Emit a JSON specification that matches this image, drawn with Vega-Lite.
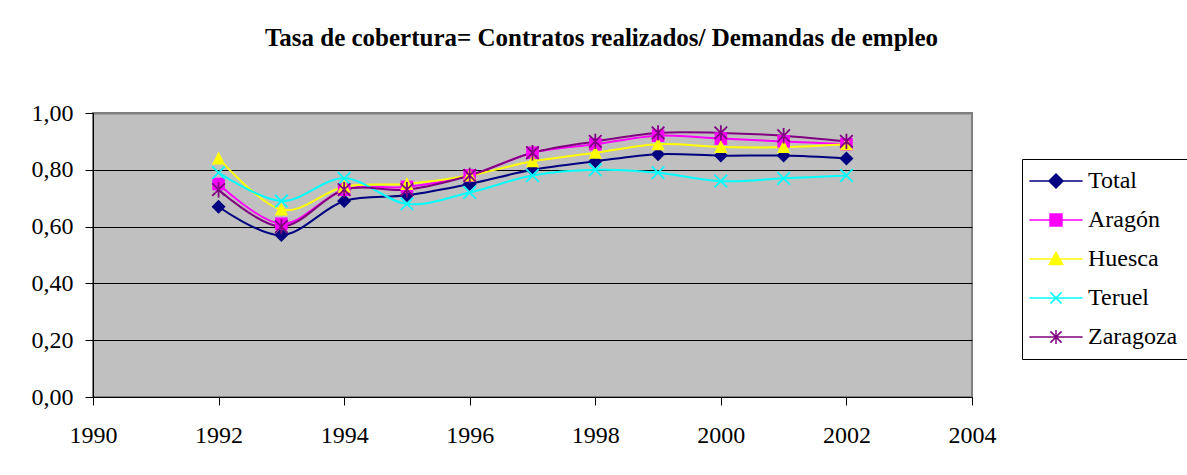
{
  "$schema": "https://vega.github.io/schema/vega-lite/v6.json",
  "width": 879,
  "height": 284,
  "autosize": {"type": "none"},
  "padding": {"left": 93, "top": 113, "right": 215, "bottom": 78},
  "background": "white",
  "title": {
    "text": "Tasa de cobertura= Contratos realizados/ Demandas de empleo",
    "font": "Liberation Serif",
    "fontSize": 25,
    "fontWeight": "bold",
    "color": "black",
    "anchor": "middle",
    "dx": 69,
    "baseline": "alphabetic",
    "offset": 30
  },
  "config": {
    "view": {"fill": "#C0C0C0", "stroke": "#808080", "strokeWidth": 2},
    "axis": {
      "labelFont": "Liberation Serif",
      "labelFontSize": 24,
      "labelColor": "black",
      "domainColor": "black",
      "tickColor": "black",
      "tickSize": 8,
      "title": null
    },
    "point": {"filled": true, "size": 196, "strokeWidth": 1.5, "opacity": 1}
  },
  "data": {
    "values": [
      {"year": 1992, "series": "Total", "value": 0.67},
      {"year": 1993, "series": "Total", "value": 0.57},
      {"year": 1994, "series": "Total", "value": 0.69},
      {"year": 1995, "series": "Total", "value": 0.71},
      {"year": 1996, "series": "Total", "value": 0.75},
      {"year": 1997, "series": "Total", "value": 0.80},
      {"year": 1998, "series": "Total", "value": 0.83},
      {"year": 1999, "series": "Total", "value": 0.855},
      {"year": 2000, "series": "Total", "value": 0.85},
      {"year": 2001, "series": "Total", "value": 0.85},
      {"year": 2002, "series": "Total", "value": 0.84},
      {"year": 1992, "series": "Aragón", "value": 0.75},
      {"year": 1993, "series": "Aragón", "value": 0.61},
      {"year": 1994, "series": "Aragón", "value": 0.73},
      {"year": 1995, "series": "Aragón", "value": 0.74},
      {"year": 1996, "series": "Aragón", "value": 0.78},
      {"year": 1997, "series": "Aragón", "value": 0.86},
      {"year": 1998, "series": "Aragón", "value": 0.89},
      {"year": 1999, "series": "Aragón", "value": 0.92},
      {"year": 2000, "series": "Aragón", "value": 0.91},
      {"year": 2001, "series": "Aragón", "value": 0.90},
      {"year": 2002, "series": "Aragón", "value": 0.89},
      {"year": 1992, "series": "Huesca", "value": 0.84},
      {"year": 1993, "series": "Huesca", "value": 0.66},
      {"year": 1994, "series": "Huesca", "value": 0.74},
      {"year": 1995, "series": "Huesca", "value": 0.75},
      {"year": 1996, "series": "Huesca", "value": 0.78},
      {"year": 1997, "series": "Huesca", "value": 0.83},
      {"year": 1998, "series": "Huesca", "value": 0.86},
      {"year": 1999, "series": "Huesca", "value": 0.89},
      {"year": 2000, "series": "Huesca", "value": 0.88},
      {"year": 2001, "series": "Huesca", "value": 0.88},
      {"year": 2002, "series": "Huesca", "value": 0.89},
      {"year": 1992, "series": "Teruel", "value": 0.79},
      {"year": 1993, "series": "Teruel", "value": 0.69},
      {"year": 1994, "series": "Teruel", "value": 0.77},
      {"year": 1995, "series": "Teruel", "value": 0.68},
      {"year": 1996, "series": "Teruel", "value": 0.72},
      {"year": 1997, "series": "Teruel", "value": 0.78},
      {"year": 1998, "series": "Teruel", "value": 0.80},
      {"year": 1999, "series": "Teruel", "value": 0.79},
      {"year": 2000, "series": "Teruel", "value": 0.76},
      {"year": 2001, "series": "Teruel", "value": 0.77},
      {"year": 2002, "series": "Teruel", "value": 0.78},
      {"year": 1992, "series": "Zaragoza", "value": 0.73},
      {"year": 1993, "series": "Zaragoza", "value": 0.60},
      {"year": 1994, "series": "Zaragoza", "value": 0.73},
      {"year": 1995, "series": "Zaragoza", "value": 0.73},
      {"year": 1996, "series": "Zaragoza", "value": 0.78},
      {"year": 1997, "series": "Zaragoza", "value": 0.86},
      {"year": 1998, "series": "Zaragoza", "value": 0.90},
      {"year": 1999, "series": "Zaragoza", "value": 0.93},
      {"year": 2000, "series": "Zaragoza", "value": 0.93},
      {"year": 2001, "series": "Zaragoza", "value": 0.92},
      {"year": 2002, "series": "Zaragoza", "value": 0.90}
    ]
  },
  "encoding": {
    "x": {
      "field": "year",
      "type": "quantitative",
      "scale": {"domain": [1990, 2004], "nice": false, "zero": false},
      "axis": {
        "values": [1990, 1992, 1994, 1996, 1998, 2000, 2002, 2004],
        "format": "d",
        "grid": false,
        "labelPadding": 18,
        "labelFlush": false
      }
    },
    "y": {
      "field": "value",
      "type": "quantitative",
      "scale": {"domain": [0, 1], "nice": false},
      "axis": {
        "values": [0, 0.2, 0.4, 0.6, 0.8, 1],
        "labelExpr": "replace(format(datum.value, '.2f'), '.', ',')",
        "grid": true,
        "gridColor": {"condition": {"test": "datum.value >= 1", "value": "#808080"}, "value": "black"},
        "gridWidth": {"condition": {"test": "datum.value >= 1", "value": 2}, "value": 1},
        "gridOpacity": 1,
        "labelPadding": 12,
        "labelFlush": false
      }
    },
    "color": {
      "field": "series",
      "type": "nominal",
      "scale": {
        "domain": ["Total", "Aragón", "Huesca", "Teruel", "Zaragoza"],
        "range": ["#000080", "#FF00FF", "#FFFF00", "#00FFFF", "#800080"]
      },
      "legend": {
        "title": null,
        "orient": "none",
        "legendX": 929,
        "legendY": 46,
        "padding": 10,
        "strokeColor": "black",
        "fillColor": "white",
        "labelFont": "Liberation Serif",
        "labelFontSize": 24,
        "labelColor": "black",
        "labelLimit": 300,
        "symbolSize": 196,
        "symbolOffset": 12,
        "labelOffset": 20,
        "rowPadding": 15,
        "symbolOpacity": 1,
        "symbolStrokeWidth": 1.5
      }
    }
  },
  "layer": [
    {
      "mark": {"type": "line", "interpolate": "cardinal", "strokeWidth": 2},
      "encoding": {}
    },
    {
      "mark": {"type": "point", "opacity": 0},
      "encoding": {
        "shape": {
          "field": "series",
          "type": "nominal",
          "scale": {
            "domain": ["Total", "Aragón", "Huesca", "Teruel", "Zaragoza"],
            "range": [
              "M-3.8,0L3.8,0M0,-1L1,0L0,1L-1,0Z",
              "M-3.8,0L3.8,0M-0.85,-0.85L0.85,-0.85L0.85,0.85L-0.85,0.85Z",
              "M-3.8,0L3.8,0M0,-0.95L0.95,0.8L-0.95,0.8Z",
              "M-3.8,0L3.8,0M-0.8,-0.8L0.8,0.8M-0.8,0.8L0.8,-0.8",
              "M-3.8,0L3.8,0M-0.8,-0.8L0.8,0.8M-0.8,0.8L0.8,-0.8M0,-1L0,1"
            ]
          },
          "legend": {
            "title": null,
            "orient": "none",
            "legendX": 929,
            "legendY": 46,
            "padding": 10,
            "strokeColor": "black",
            "fillColor": "white",
            "labelFont": "Liberation Serif",
            "labelFontSize": 24,
            "labelColor": "black",
            "labelLimit": 300,
            "symbolSize": 196,
            "symbolOffset": 12,
            "labelOffset": 20,
            "rowPadding": 15,
            "symbolOpacity": 1,
            "symbolStrokeWidth": 1.5
          }
        }
      }
    },
    {
      "transform": [{"filter": {"field": "series", "equal": "Total"}}],
      "mark": {"type": "point", "shape": "M0,-1L1,0L0,1L-1,0Z", "filled": true}
    },
    {
      "transform": [{"filter": {"field": "series", "equal": "Aragón"}}],
      "mark": {"type": "point", "shape": "M-0.9,-0.9L0.9,-0.9L0.9,0.9L-0.9,0.9Z", "filled": true}
    },
    {
      "transform": [{"filter": {"field": "series", "equal": "Huesca"}}],
      "mark": {"type": "point", "shape": "M0,-1L0.95,0.85L-0.95,0.85Z", "filled": true}
    },
    {
      "transform": [{"filter": {"field": "series", "equal": "Teruel"}}],
      "mark": {"type": "point", "shape": "M-0.9,-0.9L0.9,0.9M-0.9,0.9L0.9,-0.9", "filled": false, "strokeWidth": 1.8}
    },
    {
      "transform": [{"filter": {"field": "series", "equal": "Zaragoza"}}],
      "mark": {"type": "point", "shape": "M-0.9,-0.9L0.9,0.9M-0.9,0.9L0.9,-0.9M0,-1.1L0,1.1", "filled": false, "strokeWidth": 1.8}
    }
  ]
}
